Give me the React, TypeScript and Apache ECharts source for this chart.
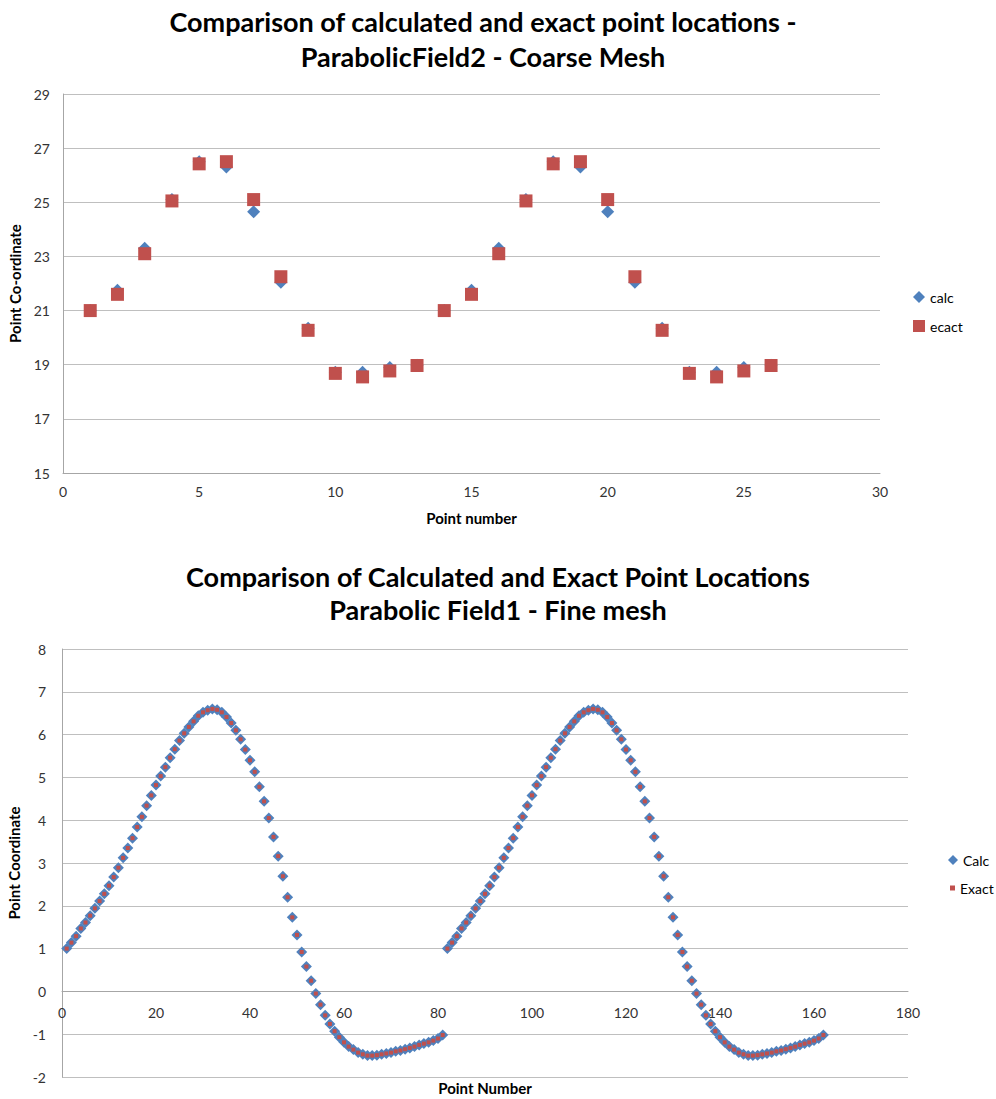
import React, { useEffect, useRef } from "react";
import * as echarts from "echarts";

// ---- Coarse mesh (top chart) ----
const coarsePointNumbers = [1, 2, 3, 4, 5, 6, 7, 8, 9, 10, 11, 12, 13, 14, 15, 16, 17, 18, 19, 20, 21, 22, 23, 24, 25, 26];
const coarseCalc = [
  21.0, 21.75, 23.3, 25.1, 26.5, 26.3, 24.65, 22.05, 20.35, 18.72, 18.72, 18.9, 18.98,
  21.0, 21.75, 23.3, 25.1, 26.5, 26.3, 24.65, 22.05, 20.35, 18.72, 18.72, 18.9, 18.98,
];
const coarseExact = [
  21.0, 21.6, 23.1, 25.05, 26.42, 26.5, 25.1, 22.25, 20.27, 18.68, 18.55, 18.77, 18.97,
  21.0, 21.6, 23.1, 25.05, 26.42, 26.5, 25.1, 22.25, 20.27, 18.68, 18.55, 18.77, 18.97,
];

// ---- Fine mesh (bottom chart), point numbers 1..162 ----
const fineCalc = [
  1.0, 1.14, 1.29, 1.47, 1.61, 1.77, 1.94, 2.11, 2.28, 2.47,
  2.67, 2.89, 3.12, 3.35, 3.58, 3.84, 4.08, 4.34, 4.58, 4.82,
  5.03, 5.24, 5.46, 5.66, 5.86, 6.03, 6.18, 6.31, 6.44, 6.52,
  6.57, 6.6, 6.58, 6.52, 6.41, 6.27, 6.1, 5.89, 5.65, 5.4,
  5.13, 4.78, 4.44, 4.05, 3.61, 3.16, 2.69, 2.2, 1.73, 1.32,
  0.92, 0.58, 0.25, -0.05, -0.31, -0.56, -0.76, -0.93, -1.07, -1.19,
  -1.29, -1.36, -1.43, -1.47, -1.5, -1.5, -1.49, -1.47, -1.45, -1.43,
  -1.4, -1.38, -1.35, -1.32, -1.29, -1.25, -1.22, -1.19, -1.15, -1.1,
  -1.02,
  1.0, 1.14, 1.29, 1.47, 1.61, 1.77, 1.94, 2.11, 2.28, 2.47,
  2.67, 2.89, 3.12, 3.35, 3.58, 3.84, 4.08, 4.34, 4.58, 4.82,
  5.03, 5.24, 5.46, 5.66, 5.86, 6.03, 6.18, 6.31, 6.44, 6.52,
  6.57, 6.6, 6.58, 6.52, 6.41, 6.27, 6.1, 5.89, 5.65, 5.4,
  5.13, 4.78, 4.44, 4.05, 3.61, 3.16, 2.69, 2.2, 1.73, 1.32,
  0.92, 0.58, 0.25, -0.05, -0.31, -0.56, -0.76, -0.93, -1.07, -1.19,
  -1.29, -1.36, -1.43, -1.47, -1.5, -1.5, -1.49, -1.47, -1.45, -1.43,
  -1.4, -1.38, -1.35, -1.32, -1.29, -1.25, -1.22, -1.19, -1.15, -1.1,
  -1.02,
];
// Exact values coincide with the calculated ones at this resolution
const fineExact = fineCalc;

const FONT = "Lato, 'Open Sans', sans-serif";
const BLUE = "#4F81BD";
const RED = "#C0504D";
const GRID = "#BFBFBF";
const AXIS = "#A6A6A6";

// bottom plot geometry: y from -2 to 8, the x axis crosses at y = 0
const FINE_GRID_HEIGHT = 428;
const FINE_Y_MIN = -2;
const FINE_Y_MAX = 8;
const FINE_X_AXIS_OFFSET = -(FINE_GRID_HEIGHT * (0 - FINE_Y_MIN)) / (FINE_Y_MAX - FINE_Y_MIN);

export default function App() {
  const ref = useRef<HTMLDivElement>(null);

  useEffect(() => {
    const chart = echarts.init(ref.current as HTMLDivElement, null, { renderer: "svg" });
    const axisLabel = { color: "#333", fontSize: 14, fontFamily: FONT };
    const nameStyle = { color: "#000", fontSize: 15, fontWeight: "bold" as const, fontFamily: FONT };
    chart.setOption({
      animation: false,
      backgroundColor: "#fff",
      textStyle: { fontFamily: FONT },
      title: [
        {
          text: "Comparison of calculated and exact point locations -\nParabolicField2 - Coarse Mesh",
          left: 483,
          top: 4,
          padding: 0,
          textAlign: "center",
          textVerticalAlign: "top",
          textStyle: { fontSize: 27, fontWeight: "bold", color: "#000", lineHeight: 35, fontFamily: FONT },
        },
        {
          text: "Comparison of Calculated and Exact Point Locations\nParabolic Field1 - Fine mesh",
          left: 498,
          top: 560,
          padding: 0,
          textAlign: "center",
          textVerticalAlign: "top",
          textStyle: { fontSize: 27, fontWeight: "bold", color: "#000", lineHeight: 33, fontFamily: FONT },
        },
      ],
      legend: [
        {
          data: ["calc", "ecact"],
          orient: "vertical",
          left: 913,
          top: 290,
          itemWidth: 12,
          itemHeight: 12,
          itemGap: 15,
          padding: 0,
          textStyle: { fontSize: 14, color: "#000", fontFamily: FONT },
        },
        {
          data: ["Calc"],
          left: 948,
          top: 853,
          itemWidth: 10,
          itemHeight: 10,
          padding: 0,
          textStyle: { fontSize: 14, color: "#000", fontFamily: FONT },
        },
        {
          data: ["Exact"],
          left: 950,
          top: 881,
          itemWidth: 5,
          itemHeight: 5,
          padding: 0,
          textStyle: { fontSize: 14, color: "#000", fontFamily: FONT },
        },
      ],
      grid: [
        { left: 63, top: 94, width: 817, height: 379, outerBoundsMode: "none", containLabel: false },
        { left: 62, top: 649, width: 846, height: FINE_GRID_HEIGHT, outerBoundsMode: "none", containLabel: false },
      ],
      xAxis: [
        {
          type: "value",
          gridIndex: 0,
          min: 0,
          max: 30,
          interval: 5,
          splitLine: { show: false },
          axisLine: { show: true, lineStyle: { color: AXIS } },
          axisTick: { show: false },
          axisLabel: { ...axisLabel, margin: 11 },
          name: "Point number",
          nameLocation: "middle",
          nameGap: 37,
          nameTextStyle: nameStyle,
        },
        {
          type: "value",
          gridIndex: 1,
          min: 0,
          max: 180,
          interval: 20,
          offset: FINE_X_AXIS_OFFSET,
          splitLine: { show: false },
          axisLine: { show: true, onZero: false, lineStyle: { color: AXIS } },
          axisTick: { show: false },
          axisLabel: { ...axisLabel, margin: 14 },
          name: "Point Number",
          nameLocation: "middle",
          nameGap: 89,
          nameTextStyle: nameStyle,
        },
      ],
      yAxis: [
        {
          type: "value",
          gridIndex: 0,
          min: 15,
          max: 29,
          interval: 2,
          splitLine: { show: true, lineStyle: { color: GRID } },
          axisLine: { show: true, lineStyle: { color: AXIS } },
          axisTick: { show: false },
          axisLabel: { ...axisLabel, margin: 13 },
          name: "Point Co-ordinate",
          nameLocation: "middle",
          nameGap: 37,
          nameTextStyle: nameStyle,
        },
        {
          type: "value",
          gridIndex: 1,
          min: FINE_Y_MIN,
          max: FINE_Y_MAX,
          interval: 1,
          splitLine: { show: true, lineStyle: { color: GRID } },
          axisLine: { show: true, lineStyle: { color: AXIS } },
          axisTick: { show: false },
          axisLabel: { ...axisLabel, margin: 16 },
          name: "Point Coordinate",
          nameLocation: "middle",
          nameGap: 36,
          nameTextStyle: nameStyle,
        },
      ],
      series: [
        {
          type: "scatter",
          name: "calc",
          xAxisIndex: 0,
          yAxisIndex: 0,
          symbol: "diamond",
          symbolSize: 13,
          itemStyle: { color: BLUE, opacity: 1 },
          data: coarsePointNumbers.map((x, i) => [x, coarseCalc[i]]),
        },
        {
          type: "scatter",
          name: "ecact",
          xAxisIndex: 0,
          yAxisIndex: 0,
          symbol: "rect",
          symbolSize: 13,
          itemStyle: { color: RED, opacity: 1 },
          data: coarsePointNumbers.map((x, i) => [x, coarseExact[i]]),
        },
        {
          type: "scatter",
          name: "Calc",
          xAxisIndex: 1,
          yAxisIndex: 1,
          symbol: "diamond",
          symbolSize: 11,
          itemStyle: { color: BLUE, opacity: 1 },
          data: fineCalc.map((v, i) => [i + 1, v]),
        },
        {
          type: "scatter",
          name: "Exact",
          xAxisIndex: 1,
          yAxisIndex: 1,
          symbol: "rect",
          symbolSize: 4,
          itemStyle: { color: RED, opacity: 1 },
          data: fineExact.map((v, i) => [i + 1, v]),
        },
      ],
    });
    return () => chart.dispose();
  }, []);

  return (
    <div
      ref={ref}
      style={{ position: "absolute", left: 0, top: 0, width: 996, height: 1099 }}
    />
  );
}
